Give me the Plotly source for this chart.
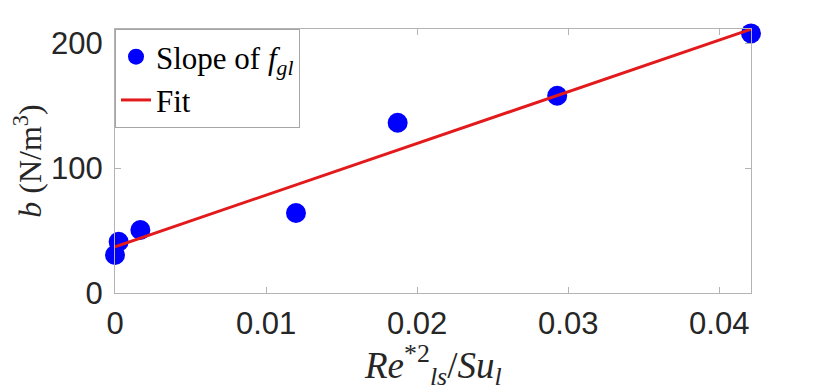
"""Koefisien b terhadap Re*^2/Su_l dengan garis fit linear."""

import plotly.graph_objects as go

# titik data hasil baca dari gambar
re_su = [0.0000, 0.00024, 0.00168, 0.01198, 0.01871, 0.02927, 0.0421]
slope_b = [30.4, 41.0, 50.4, 64.0, 136.2, 157.8, 207.7]

# garis fit (ujung-ujungnya)
fit_x = [0.0, 0.0421]
fit_y = [37.0, 211.0]

x_ticks = [0, 0.01, 0.02, 0.03, 0.04]
x_ticklabels = ["0", "0.01", "0.02", "0.03", "0.04"]
y_ticks = [0, 100, 200]

SANS = "Liberation Sans, Arial, sans-serif"
SERIF = "Liberation Serif, Times New Roman, serif"
AXIS_GRAY = "#b3b3b3"
TEXT = "#262626"

# halaman html punya margin body 8px, jadi margin figure dikompensasi
fig = go.Figure()
fig.add_trace(go.Scatter(
    x=re_su, y=slope_b, mode="markers", name="Slope of <i>f</i><sub><i>gl</i></sub>",
    marker=dict(color="#0000ff", size=20, line=dict(width=0)), cliponaxis=False,
))
fig.add_trace(go.Scatter(
    x=fit_x, y=fit_y, mode="lines", name="Fit",
    line=dict(color="#e31a1c", width=3), cliponaxis=False,
))

axis_common = dict(
    showline=True, linecolor=AXIS_GRAY, linewidth=1, mirror="ticks",
    ticks="inside", ticklen=6, tickcolor=AXIS_GRAY, showgrid=False, zeroline=False,
    tickfont=dict(family=SANS, size=31, color=TEXT), automargin=False,
)
fig.update_xaxes(range=[0, 0.0421], tickvals=x_ticks, ticktext=x_ticklabels,
                 ticklabelstandoff=3, **axis_common)
fig.update_yaxes(
    range=[0, 211.2], tickvals=y_ticks, ticklabelstandoff=5,
    title=dict(text="<i>b</i> (N/m<sup>3</sup>)",
               font=dict(family=SERIF, size=32, color=TEXT), standoff=10),
    **axis_common,
)

fig.add_annotation(
    text="<i>Re</i><sup>*2</sup><sub><i>ls</i></sub>/<i>Su</i><sub><i>l</i></sub>",
    xref="paper", yref="paper", x=0.5, y=-0.272, xanchor="center", yanchor="middle",
    showarrow=False, font=dict(family=SERIF, size=37, color=TEXT),
)

fig.update_layout(
    width=830, height=391, template="plotly_white",
    margin=dict(l=107, r=87, t=21, b=106),
    paper_bgcolor="white", plot_bgcolor="white",
    legend=dict(
        x=0, y=1, xanchor="left", yanchor="top", bgcolor="white",
        bordercolor="#a6a6a6", borderwidth=1, tracegroupgap=0,
        font=dict(family=SERIF, size=31, color="black"), itemwidth=30,
    ),
)

fig.write_html("out.html")
